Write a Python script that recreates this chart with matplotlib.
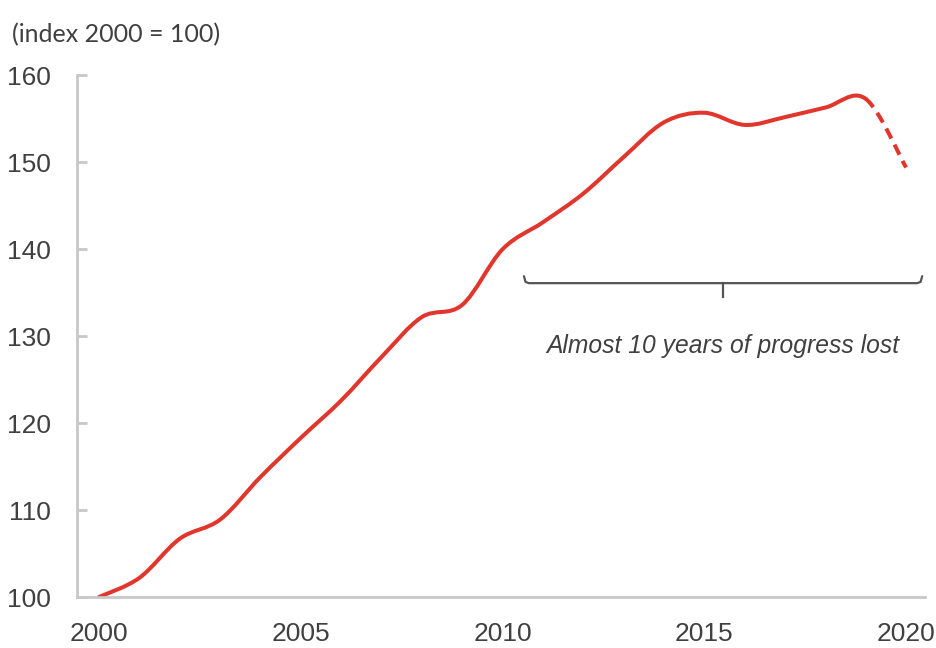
import numpy as np
import matplotlib
matplotlib.use('Agg')
import matplotlib.pyplot as plt
from matplotlib.path import Path
from matplotlib.patches import PathPatch

# indice 2000 = 100, valeurs annuelles
annees = [2000, 2001, 2002, 2003, 2004, 2005, 2006, 2007, 2008, 2009, 2010,
          2011, 2012, 2013, 2014, 2015, 2016, 2017, 2018, 2019, 2020]
indice = [100.0, 102.2, 106.7, 108.9, 113.8, 118.3, 122.6, 127.6, 132.2, 133.6, 140.0,
          143.1, 146.4, 150.6, 154.6, 155.7, 154.3, 155.2, 156.3, 157.3, 149.4]
annee_estimee = 2019   # a partir d'ici la courbe est en pointilles

yticks = [100, 110, 120, 130, 140, 150, 160]
xticks = [2000, 2005, 2010, 2015, 2020]
titre = "(index 2000 = 100)"
note = "Almost 10 years of progress lost"
accolade = (2010.53, 2020.4, 136.1)   # debut, fin, hauteur

ROUGE = '#e0362c'
GRIS = '#c8c8c8'
TEXTE = '#404040'
POLICE = ['Liberation Sans Narrow', 'Liberation Sans', 'DejaVu Sans']


def courbe_lissee(x, y, i0, i1):
    # segments de Bezier type "ligne lissee" (Catmull-Rom) entre les points i0 et i1
    n = len(x)
    verts = [(x[i0], y[i0])]
    codes = [Path.MOVETO]
    for i in range(i0, i1):
        a = max(i - 1, 0)
        b = min(i + 2, n - 1)
        c1 = (x[i] + (x[i + 1] - x[a]) / 6, y[i] + (y[i + 1] - y[a]) / 6)
        c2 = (x[i + 1] - (x[b] - x[i]) / 6, y[i + 1] - (y[b] - y[i]) / 6)
        verts += [c1, c2, (x[i + 1], y[i + 1])]
        codes += [Path.CURVE4] * 3
    return Path(verts, codes)


fig = plt.figure(figsize=(9.36, 6.48), dpi=100)
ax = fig.add_axes([0.0823, 0.0787, 0.906, 0.805])

x = np.array(annees, dtype=float)
y = np.array(indice)
k = annees.index(annee_estimee)

ax.add_patch(PathPatch(courbe_lissee(x, y, 0, k), facecolor='none', edgecolor=ROUGE,
                       lw=2.9, capstyle='round', joinstyle='round'))
ax.add_patch(PathPatch(courbe_lissee(x, y, k, len(x) - 1), facecolor='none', edgecolor=ROUGE,
                       lw=2.9, linestyle=(0, (2.8, 1.7)), capstyle='butt'))

ax.set_xlim(1999.455, 2020.47)
ax.set_ylim(100, 160)

for s in ['top', 'right']:
    ax.spines[s].set_visible(False)
for s in ['left', 'bottom']:
    ax.spines[s].set_color(GRIS)
    ax.spines[s].set_linewidth(2)

ax.set_yticks(yticks)
ax.set_xticks(xticks)
ax.tick_params(axis='y', direction='in', length=7, width=2, color=GRIS, pad=19,
               labelsize=19, labelcolor=TEXTE)
ax.tick_params(axis='x', length=0, pad=18, labelsize=19, labelcolor=TEXTE)
for lab in ax.get_xticklabels() + ax.get_yticklabels():
    lab.set_family(POLICE)

# accolade sous la periode perdue
x0, x1, ya = accolade
xm = (x0 + x1) / 2
ax.plot([x0, x0 + 0.04, x0 + 0.12, x1 - 0.12, x1 - 0.04, x1],
        [ya + 0.8, ya + 0.15, ya, ya, ya + 0.15, ya + 0.8],
        color='#555555', lw=1.6, solid_capstyle='round')
ax.plot([xm, xm], [ya, ya - 1.6], color='#555555', lw=1.6)
ax.text(xm, 128.85, note, ha='center', va='center', fontsize=17.7, style='italic',
        color=TEXTE, family=POLICE)

fig.text(12 / 936, 1 - 35 / 648, titre, ha='left', va='center', fontsize=18,
         color=TEXTE, family=['Lato', 'DejaVu Sans'])

fig.savefig('out.png', dpi=100, facecolor='white')
